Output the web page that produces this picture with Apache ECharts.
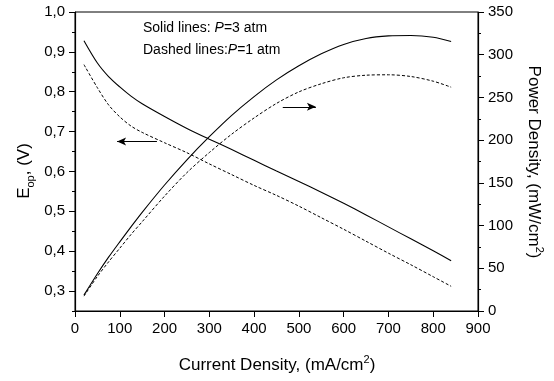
<!DOCTYPE html>
<html>
<head>
<meta charset="utf-8">
<script src="https://cdn.jsdelivr.net/npm/echarts@6/dist/echarts.min.js"></script>
<style>
  html, body { margin: 0; padding: 0; background: #fff; }
  #chart { width: 554px; height: 381px; }
</style>
</head>
<body>
<div id="chart"></div>
<script>
// current density, mA/cm2
const currentDensity = [20, 50, 75, 100, 125, 150, 200, 250, 300, 350, 400, 450, 500, 550, 600, 650, 700, 750, 800, 840];
// E_op (V)
const voltageP3 = [0.928, 0.872, 0.838, 0.812, 0.789, 0.770, 0.738, 0.708, 0.681, 0.655, 0.628, 0.601, 0.575, 0.548, 0.520, 0.491, 0.461, 0.431, 0.401, 0.376];
const voltageP1 = [0.868, 0.810, 0.767, 0.737, 0.714, 0.698, 0.672, 0.647, 0.619, 0.592, 0.565, 0.540, 0.513, 0.484, 0.455, 0.425, 0.395, 0.366, 0.336, 0.312];
// power density, mW/cm2
const powerP3 = [18.6, 43.6, 63, 81, 98.5, 115.5, 147.5, 177, 204, 229, 251, 270.5, 287, 301, 312, 319, 322, 322.5, 320.5, 315.5];
const powerP1 = [17.4, 40.5, 57.5, 73.5, 89.5, 104.5, 134.5, 162, 185.5, 207, 226, 243, 256.5, 266, 273, 276, 276.5, 274.5, 269, 262];

const xTicks = [0, 100, 200, 300, 400, 500, 600, 700, 800, 900];
const leftTicks = [0.3, 0.4, 0.5, 0.6, 0.7, 0.8, 0.9, 1.0];

// arrows: [from, to] in data units
const arrowLeft = [[183, 0.675], [94, 0.675]];
const arrowRight = [[464, 239], [538, 239]];

const pairs = (ys) => currentDensity.map((x, i) => [x, ys[i]]);

const font = 'Liberation Sans, Arial, sans-serif';
const black = '#000';

const chart = echarts.init(document.getElementById('chart'));

const arrowMark = (seg) => ({
    silent: true,
    animation: false,
    symbol: ['none', 'arrow'],
    symbolSize: [6, 9],
    label: { show: false },
    lineStyle: { color: black, width: 1, type: 'solid' },
    emphasis: { disabled: true },
    data: [[{ coord: seg[0] }, { coord: seg[1] }]]
});

const lineSeries = (name, axis, ys, dashed, extra) => Object.assign({
    name: name, type: 'line', xAxisIndex: 0, yAxisIndex: axis,
    data: pairs(ys), smooth: 0.3, showSymbol: false,
    lineStyle: dashed ? { color: black, width: 1, type: [3, 2] } : { color: black, width: 1.1 }
}, extra || {});

const option = {
    animation: false,
    backgroundColor: '#fff',
    grid: {
        left: 75, right: 76, top: 12, bottom: 70,
        show: true, borderColor: black, borderWidth: 1, backgroundColor: 'transparent'
    },
    xAxis: {
        type: 'value',
        min: 0, max: 900, interval: 100,
        axisLine: { lineStyle: { color: black, width: 1.2 } },
        axisTick: { length: 6, lineStyle: { color: black } },
        axisLabel: { color: black, fontSize: 15, fontFamily: font, margin: 10, customValues: xTicks },
        splitLine: { show: false }
    },
    yAxis: [
        {
            type: 'value',
            position: 'left',
            min: 0.25, max: 1.0, interval: 0.05,
            axisLine: { show: true, lineStyle: { color: black, width: 1.2 } },
            axisTick: { length: 6, lineStyle: { color: black }, customValues: leftTicks },
            axisLabel: {
                color: black, fontSize: 15, fontFamily: font, margin: 10,
                customValues: leftTicks,
                formatter: v => v.toFixed(1).replace('.', ',')
            },
            splitLine: { show: false }
        },
        {
            type: 'value',
            position: 'right',
            min: 0, max: 350, interval: 50,
            axisLine: { show: true, lineStyle: { color: black, width: 1.2 } },
            axisTick: { length: 6, lineStyle: { color: black } },
            minorTick: { show: true, splitNumber: 2, length: 3, lineStyle: { color: black } },
            axisLabel: { color: black, fontSize: 15, fontFamily: font, margin: 10 },
            splitLine: { show: false },
            minorSplitLine: { show: false }
        },
        {
            // minor ticks on the left axis
            type: 'value',
            position: 'left',
            min: 0.25, max: 1.0, interval: 0.05,
            axisLine: { show: false },
            axisTick: { show: true, length: 3, lineStyle: { color: black } },
            axisLabel: { show: false },
            splitLine: { show: false }
        }
    ],
    graphic: [
        {
            type: 'text', left: 143, top: 21,
            style: {
                text: '{a|Solid lines: }{i|P}{a|=3 atm}',
                rich: {
                    a: { fontSize: 14, fontFamily: font, fill: black },
                    i: { fontSize: 14, fontFamily: font, fontStyle: 'italic', fill: black }
                }
            }
        },
        {
            type: 'text', left: 143, top: 43,
            style: {
                text: '{a|Dashed lines:}{i|P}{a|=1 atm}',
                rich: {
                    a: { fontSize: 14, fontFamily: font, fill: black },
                    i: { fontSize: 14, fontFamily: font, fontStyle: 'italic', fill: black }
                }
            }
        },
        {
            type: 'text', x: 277, y: 365,
            style: {
                text: '{a|Current Density, (mA/cm}{s|2}{a|)}',
                align: 'center', verticalAlign: 'middle',
                rich: {
                    a: { fontSize: 17, fontFamily: font, fill: black, lineHeight: 22 },
                    s: { fontSize: 11, fontFamily: font, fill: black, verticalAlign: 'top' }
                }
            }
        },
        {
            type: 'text', x: 534, y: 162, rotation: -Math.PI / 2,
            style: {
                text: '{a|Power Density, (mW/cm}{s|2}{a|)}',
                align: 'center', verticalAlign: 'middle',
                rich: {
                    a: { fontSize: 17, fontFamily: font, fill: black, lineHeight: 22 },
                    s: { fontSize: 11, fontFamily: font, fill: black, verticalAlign: 'top' }
                }
            }
        },
        {
            type: 'text', x: 24, y: 171, rotation: Math.PI / 2,
            style: {
                text: '{a|E}{s|op}{a|, (V)}',
                align: 'center', verticalAlign: 'middle',
                rich: {
                    a: { fontSize: 17, fontFamily: font, fill: black, lineHeight: 24 },
                    s: { fontSize: 11, fontFamily: font, fill: black, verticalAlign: 'bottom' }
                }
            }
        }
    ],
    series: [
        lineSeries('E P=3', 0, voltageP3, false, { markLine: arrowMark(arrowLeft) }),
        lineSeries('E P=1', 0, voltageP1, true),
        lineSeries('PD P=3', 1, powerP3, false),
        lineSeries('PD P=1', 1, powerP1, true, { markLine: arrowMark(arrowRight) })
    ]
};

chart.setOption(option);
</script>
</body>
</html>
